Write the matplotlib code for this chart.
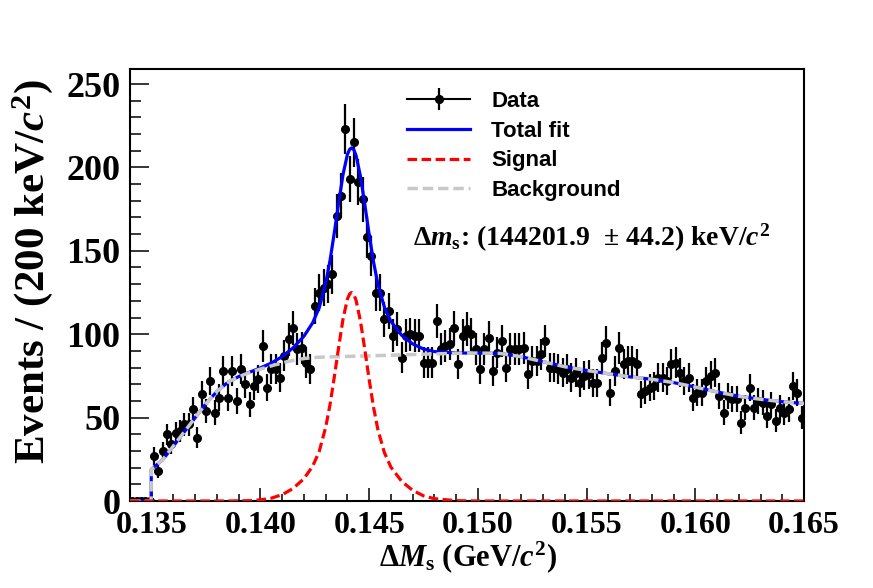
import numpy as np
import matplotlib
matplotlib.use('Agg')
import matplotlib.pyplot as plt
from matplotlib.lines import Line2D
from matplotlib.ticker import MultipleLocator
from matplotlib.font_manager import FontProperties

plt.rcParams['mathtext.fontset'] = 'custom'
plt.rcParams['mathtext.rm'] = 'Liberation Serif:bold'
plt.rcParams['mathtext.it'] = 'Liberation Serif:italic:bold'
plt.rcParams['mathtext.bf'] = 'Liberation Serif:bold'

# ---------------- data ----------------
bin_low = 0.134
bin_width = 0.0002
counts = [0, 0, 0, 0, 0,
          27, 18, 30, 40, 34, 41, 42, 46, 46, 55, 38, 64, 54, 72, 53, 62, 78, 62, 78, 60,
          79, 70, 58, 69, 73, 93, 68, 79, 79, 74, 87, 97, 104, 91, 92, 83, 79, 117, 125, 128,
          130, 136, 171, 183,
          223, 193, 215, 191, 181, 158, 147, 125,
          125, 109, 114, 99, 103, 86, 99, 100, 99, 99, 83, 83, 83, 108, 91, 93, 94, 104, 82,
          99, 103, 100, 91,
          79, 91, 98, 78, 89, 96, 80, 91, 91, 91, 92, 76, 84, 84, 88, 96, 80, 80, 79, 77, 79,
          74, 77, 71, 75, 76, 71, 71, 86, 95, 65, 78, 92, 82, 84, 84, 82,
          64, 66, 68, 69, 74, 74, 72, 82, 83, 77, 72, 74, 62, 65, 65, 72, 75, 77, 63, 53, 63,
          61, 61, 47, 56, 68, 56, 60, 59, 51, 58, 48, 56, 53, 55, 69, 65, 50]

fit_x = [0.13400, 0.13497, 0.13498, 0.13550, 0.13600, 0.13650, 0.13700, 0.13750, 0.13800,
         0.13850, 0.13900, 0.13950, 0.14000, 0.14050, 0.14100, 0.14150, 0.14200, 0.14240,
         0.14270, 0.14300, 0.14320, 0.14340, 0.14360, 0.14380, 0.14400, 0.14410, 0.14419,
         0.14430, 0.14440, 0.14460, 0.14480, 0.14500, 0.14520, 0.14540, 0.14570, 0.14600,
         0.14650, 0.14700, 0.14750, 0.14800, 0.14900, 0.15000, 0.15100, 0.15200, 0.15300,
         0.15400, 0.15500, 0.15600, 0.15700, 0.15800, 0.15900, 0.16000, 0.16100, 0.16200,
         0.16300, 0.16400, 0.16500]
fit_signal = [0, 0, 0, 0, 0, 0, 0, 0, 0, 0,
              0.1, 0.2, 0.7, 1.7, 3.8, 7.5, 13.4, 20.8, 29.6, 44.2, 57.8, 74.6, 92.5, 109.3,
              121.1, 124.1, 125.0, 123.7, 120.2, 107.8, 90.8, 72.8, 56.3, 42.9, 29.0, 20.3,
              11.7, 6.4, 3.1, 1.4, 0.2, 0.0,
              0, 0, 0, 0, 0, 0, 0, 0, 0, 0, 0, 0, 0, 0, 0]
fit_background = [0, 0, 19, 24.7, 33, 41.5, 50, 58.5, 65.7, 71.2, 74.5, 77.0, 79.1, 81.0,
                  82.8, 84.3, 85.4, 86.0, 86.2, 86.3, 86.4, 86.5, 86.5, 86.6, 86.7, 86.7,
                  86.7, 86.8, 86.8, 86.9, 86.9, 87.0, 87.1, 87.2, 87.3, 87.4, 87.6, 87.8,
                  88.0, 88.2, 88.5, 88.7, 88.5, 86.5, 83.5, 80.5, 78.3, 76.3, 74.4, 73.0,
                  71.0, 68.3, 65.4, 62.8, 61.0, 59.5, 58.5]

x_ticks = [0.135, 0.140, 0.145, 0.150, 0.155, 0.160, 0.165]
x_tick_labels = ['0.135', '0.140', '0.145', '0.150', '0.155', '0.160', '0.165']
y_ticks = [0, 50, 100, 150, 200, 250]
y_tick_labels = ['0', '50', '100', '150', '200', '250']
legend_labels = ['Data', 'Total fit', 'Signal', 'Background']

# ---------------- plot ----------------
W, H = 873, 588
fig = plt.figure(figsize=(W / 100, H / 100), dpi=100)
ax = fig.add_axes([130 / W, 87 / H, 674 / W, 432 / H])

counts_arr = np.array(counts, dtype=float)
centers = bin_low + bin_width * (np.arange(len(counts_arr)) + 0.5)
errs = np.sqrt(counts_arr)

eb = ax.errorbar(centers, counts_arr, yerr=errs, fmt='o', color='black', ms=5.5,
                 elinewidth=1.6, capsize=0, zorder=2)

fx = np.array(fit_x)
sig = np.array(fit_signal)
bkg = np.array(fit_background)
tot = sig + bkg

l_tot, = ax.plot(fx, tot, color='#0000ff', lw=2.3, zorder=3)
l_bkg, = ax.plot(fx, bkg, color='#c8c8c8', lw=2.5, ls=(0, (3, 1.4)), zorder=4)
l_sig, = ax.plot(fx, sig, color='#ff0000', lw=2.3, ls=(0, (3, 1.4)), zorder=5)

ax.set_xlim(0.134, 0.165)
ax.set_ylim(0, 259)

xtick_font = FontProperties(family='Liberation Serif', weight='bold', size=23)
ytick_font = FontProperties(family='Liberation Serif', weight='bold', size=26)
ax.set_xticks(x_ticks)
ax.set_xticklabels(x_tick_labels, fontproperties=xtick_font)
ax.set_yticks(y_ticks)
ax.set_yticklabels(y_tick_labels, fontproperties=ytick_font)
ax.xaxis.set_minor_locator(MultipleLocator(0.001))
ax.yaxis.set_minor_locator(MultipleLocator(10))
ax.tick_params(axis='x', which='major', direction='in', length=9.5, width=1.1, pad=7.5)
ax.tick_params(axis='x', which='minor', direction='in', length=5, width=1.1)
ax.tick_params(axis='y', which='major', direction='in', length=13.5, width=1.1, pad=7)
ax.tick_params(axis='y', which='minor', direction='in', length=8, width=1.1)
ax.tick_params(top=False, right=False, which='both')
for s in ax.spines.values():
    s.set_linewidth(1.5)

fig.text(33 / W, 1 - 272 / H, r'Events / (200 keV/$c^2$)', rotation=90,
         ha='center', va='center', family='Liberation Serif', weight='bold', size=31)
fig.text(468 / W, 1 - 557 / H, r'$\Delta \mathit{M}_{\mathrm{s}}$ (GeV/$c^2$)',
         ha='center', va='center', family='Liberation Serif', weight='bold', size=22)
fig.text(413 / W, 1 - 238 / H, r'$\Delta \mathit{m}_{\mathrm{s}}$: (144201.9  ± 44.2) keV/$c^2$',
         ha='left', va='center', family='Liberation Serif', weight='bold', size=20)

data_handle = Line2D([], [], color='black', marker='o', ms=5, lw=1.5)
leg_font = FontProperties(family='Liberation Sans', weight='bold', size=16)
ax.legend([(data_handle, eb), l_tot, l_sig, l_bkg], legend_labels,
          loc='upper left', bbox_to_anchor=(407 / W, 1 - 91 / H),
          bbox_transform=fig.transFigure, frameon=False, borderpad=0,
          borderaxespad=0, handlelength=2.85, handletextpad=0.95,
          labelspacing=0.39, prop=leg_font)

fig.savefig('out.png', dpi=100)
